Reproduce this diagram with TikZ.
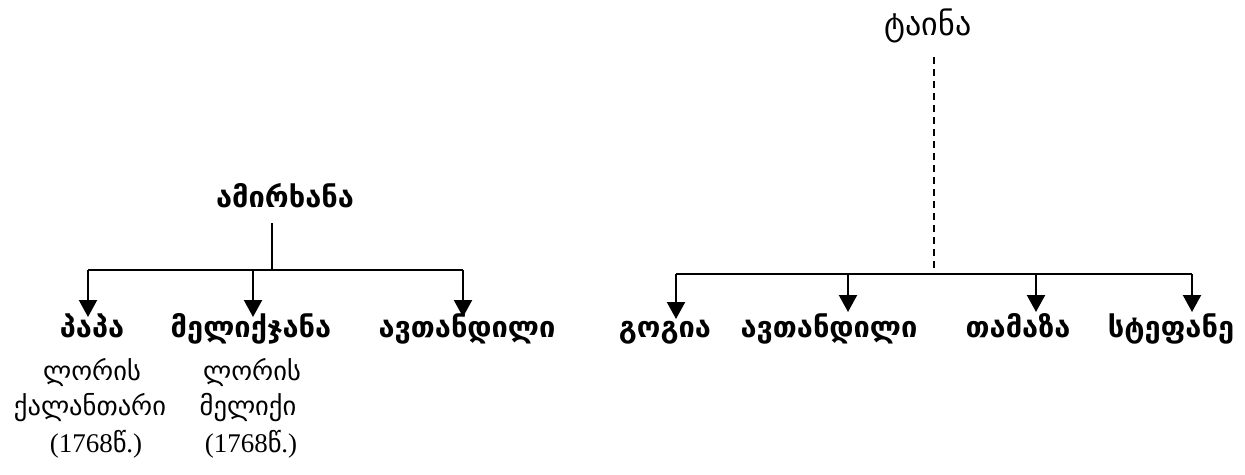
\documentclass[tikz,border=0pt]{standalone}
\usepackage{fontspec}
\setmainfont{Liberation Serif}
\newfontfamily\geo{DejaVu Sans}
\usetikzlibrary{arrows.meta}
\tikzset{
  lbl/.style={font=\geo\bfseries\fontsize{29}{30}\selectfont, inner sep=1pt, anchor=base},
  sub/.style={font=\geo\fontsize{26.5}{30}\selectfont, inner sep=1pt, anchor=base},
  ln/.style={line width=1.8pt},
  arr/.style={line width=2.2pt, -{Triangle[width=18pt,length=17pt]}},
}
\newcommand{\yr}{{\rmfamily\fontsize{27}{30}\selectfont (1768}წ{\rmfamily\fontsize{27}{30}\selectfont .)}}
\begin{document}
\begin{tikzpicture}[x=1pt,y=-1pt]
\useasboundingbox (0,0) rectangle (1245,474);
% left tree
\node[lbl] (amir) at (285,207) {ამირხანა};
\coordinate (lc) at (272,270);
\coordinate (l1) at (88,270);
\coordinate (l2) at (253,270);
\coordinate (l3) at (463,270);
\node[lbl] (papa) at (92,337) {პაპა};
\node[lbl] (melik) at (251,337) {მელიქჯანა};
\node[lbl] (avt1) at (467,337) {ავთანდილი};
\node[sub] (pa1) at (92,380) {ლორის};
\node[sub] (pa2) at (90,415) {ქალანთარი};
\node[sub] (pa3) at (96,452) {\yr};
\node[sub] (me1) at (252,380) {ლორის};
\node[sub] (me2) at (248,415) {მელიქი};
\node[sub] (me3) at (251,452) {\yr};
\draw[line width=1.4pt] (lc |- 0,223) -- (lc);
\draw[ln] (l1) -- (l3);
\draw[arr] (l1) -- ++(0,47);
\draw[arr] (l2) -- ++(0,47);
\draw[arr] (l3) -- ++(0,47);
% right tree
\node[font=\geo\fontsize{32}{34}\selectfont, inner sep=1pt, anchor=base] (taina) at (928,35) {ტაინა};
\coordinate (rc) at (934,274);
\coordinate (r1) at (676,274);
\coordinate (r2) at (848,274);
\coordinate (r3) at (1036,274);
\coordinate (r4) at (1192,274);
\node[lbl] (gog) at (665,337) {გოგია};
\node[lbl] (avt2) at (829,337) {ავთანდილი};
\node[lbl] (tam) at (1018,337) {თამაზა};
\node[lbl] (stef) at (1171,337) {სტეფანე};
\draw[line width=1.4pt, dash pattern=on 7pt off 5pt] (rc |- 0,57) -- (rc);
\draw[ln] (r1) -- (r4);
\draw[arr] (r1) -- ++(0,45);
\draw[arr] (r2) -- ++(0,38);
\draw[arr] (r3) -- ++(0,38);
\draw[arr] (r4) -- ++(0,38);
\end{tikzpicture}
\end{document}
